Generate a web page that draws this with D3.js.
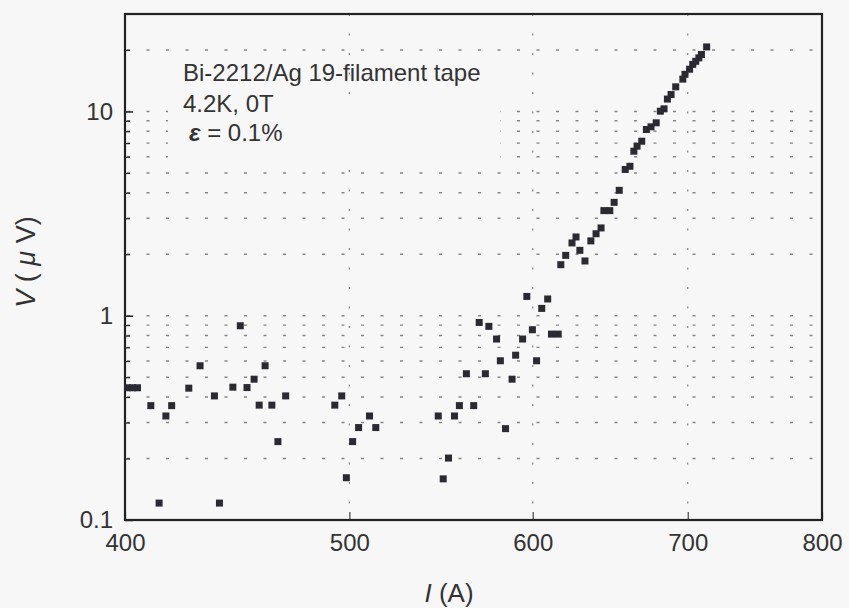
<!DOCTYPE html>
<html>
<head>
<meta charset="utf-8">
<script src="https://cdn.jsdelivr.net/npm/d3@7/dist/d3.min.js"></script>
<style>
  html, body { margin: 0; padding: 0; background: #f8f7f7; }
  svg { display: block; }
  text { font-family: "Liberation Sans", Arial, Helvetica, sans-serif; fill: #333; }
</style>
</head>
<body>
<svg id="chart" width="849" height="608"></svg>
<script>
// ---- data ----
const current = [401, 403, 405, 410.4, 413.8, 416.6, 419, 426.2, 431, 437.2, 439.4, 445.3, 448.6, 451.6, 454.8,
  457.1, 459.8, 462.9, 465.7, 469.3, 492.8, 496.2, 498.5, 501.6, 504.6, 510.1, 513.3, 546.2, 548.9, 551.8,
  555.1, 557.8, 561.7, 565.8, 568.9, 572.4, 574.4, 578.8, 581, 584, 587.8, 589.9, 594, 596.5, 599.8,
  602.3, 605.4, 609, 611.3, 615.4, 617, 620, 623.9, 626.4, 628.8, 632, 635.7, 639, 642.2, 644,
  647.8, 650.6, 653.9, 657.8, 660.9, 663.5, 665.6, 668.7, 671.8, 674.9, 678.4, 681.2, 683.7, 686,
  688.5, 691.7, 696.6, 698.1, 701.3, 703.5, 705.6, 707.8, 709.6, 713.3];
const voltage = [0.444, 0.444, 0.444, 0.363, 0.121, 0.323, 0.363, 0.442, 0.569, 0.405, 0.121, 0.447, 0.893, 0.445, 0.489,
  0.365, 0.569, 0.365, 0.242, 0.405, 0.365, 0.405, 0.161, 0.242, 0.2835, 0.323, 0.2835, 0.323, 0.159, 0.201,
  0.323, 0.363, 0.52, 0.363, 0.927, 0.52, 0.887, 0.769, 0.602, 0.280, 0.489, 0.641, 0.769, 1.243, 0.854,
  0.602, 1.086, 1.208, 0.813, 0.813, 1.778, 1.975, 2.272, 2.43, 2.09, 1.854, 2.325, 2.52, 2.69, 3.27,
  3.27, 3.59, 4.11, 5.20, 5.39, 6.39, 6.76, 7.15, 8.16, 8.41, 8.80, 10.03, 10.3, 11.5,
  12.1, 13.2, 14.4, 15.2, 16.1, 17.0, 17.6, 18.3, 19.0, 20.7];
const xTicks = [400, 500, 600, 700, 800];
const yTicks = [0.1, 1, 10];
const yTickLabels = ["0.1", "1", "10"];
const yMinor = [0.2, 0.3, 0.4, 0.5, 0.6, 0.7, 0.8, 0.9, 2, 3, 4, 5, 6, 7, 8, 9, 20];
const xGrid = [500, 600, 700];
const annotation = ["Bi-2212/Ag 19-filament tape", "4.2K, 0T"];

// ---- layout ----
const W = 849, H = 608;
const m = { left: 125, top: 14, right: 27, bottom: 88 };
const pw = W - m.left - m.right, ph = H - m.top - m.bottom;

const svg = d3.select("#chart");
const g = svg.append("g").attr("transform", `translate(${m.left},${m.top})`);

const x = d3.scaleLog().domain([400, 800]).range([0, pw]);
const y = d3.scaleLog().domain([0.1, 30]).range([ph, 0]);

// grid
const gridColor = "#858585";
g.append("g").selectAll("line").data(yMinor.concat([1, 10])).join("line")
  .attr("x1", 0).attr("x2", pw)
  .attr("y1", d => y(d)).attr("y2", d => y(d))
  .attr("stroke", gridColor).attr("stroke-width", 1.4)
  .attr("stroke-dasharray", "3,16.5").attr("stroke-dashoffset", -2);
g.append("g").selectAll("line").data(xGrid).join("line")
  .attr("x1", d => x(d)).attr("x2", d => x(d))
  .attr("y1", 0).attr("y2", ph)
  .attr("stroke", gridColor).attr("stroke-width", 1.2)
  .attr("stroke-dasharray", "2,17.5");

// occluded patch behind annotation (gridlines absent there in the reference)
g.append("rect").attr("x", 168 - m.left).attr("y", 103 - m.top)
  .attr("width", 500 - 168).attr("height", 63).attr("fill", "#f8f7f7");

// axes
const yAxis = d3.axisLeft(y).tickValues(yTicks)
  .tickFormat((d, i) => yTickLabels[i]).tickSize(-8).tickPadding(12);
const ya = g.append("g").call(yAxis);
ya.select(".domain").remove();
ya.selectAll("line").attr("stroke", "#222").attr("stroke-width", 1.5);
ya.selectAll("text").attr("font-size", 24).attr("fill", "#333")
  .style("font-family", '"Liberation Sans", Arial, sans-serif');

const yMinorAxis = d3.axisLeft(y).tickValues(yMinor).tickFormat("").tickSize(-5);
const ym = g.append("g").call(yMinorAxis);
ym.select(".domain").remove();
ym.selectAll("line").attr("stroke", "#222").attr("stroke-width", 1.2);

const xAxis = d3.axisBottom(x).tickValues(xTicks).tickFormat(d3.format("d"))
  .tickSize(-8).tickPadding(14);
const xa = g.append("g").attr("transform", `translate(0,${ph})`).call(xAxis);
xa.select(".domain").remove();
xa.selectAll("line").attr("stroke", "#444").attr("stroke-width", 1.2);
xa.selectAll("text").attr("font-size", 24).attr("fill", "#333")
  .style("font-family", '"Liberation Sans", Arial, sans-serif');

// frame
g.append("rect").attr("x", 0).attr("y", 0).attr("width", pw).attr("height", ph)
  .attr("fill", "none").attr("stroke", "#222").attr("stroke-width", 2.2);

// points
const s = 7;
g.append("g").selectAll("rect").data(current.map((c, i) => [c, voltage[i]])).join("rect")
  .attr("x", d => x(d[0]) - s / 2).attr("y", d => y(d[1]) - s / 2)
  .attr("width", s).attr("height", s).attr("fill", "#2a2a33");

// annotation
const ann = svg.append("g").attr("font-size", 24);
ann.append("text").attr("x", 183).attr("y", 81).text(annotation[0]);
ann.append("text").attr("x", 183).attr("y", 112).text(annotation[1]);
const eps = ann.append("text").attr("x", 189).attr("y", 141);
eps.append("tspan").attr("font-weight", "bold").attr("font-style", "italic").text("ε");
eps.append("tspan").text(" = 0.1%");

// axis titles
const yt = svg.append("text").attr("transform", "translate(35,262) rotate(-90)")
  .attr("text-anchor", "middle").attr("font-size", 27);
yt.append("tspan").attr("font-style", "italic").text("V");
yt.append("tspan").text(" ( ");
yt.append("tspan").attr("font-style", "italic").text("μ");
yt.append("tspan").text(" V)");

const xt = svg.append("text").attr("x", 449).attr("y", 602)
  .attr("text-anchor", "middle").attr("font-size", 26);
xt.append("tspan").attr("font-style", "italic").text("I");
xt.append("tspan").text(" (A)");
</script>
</body>
</html>
